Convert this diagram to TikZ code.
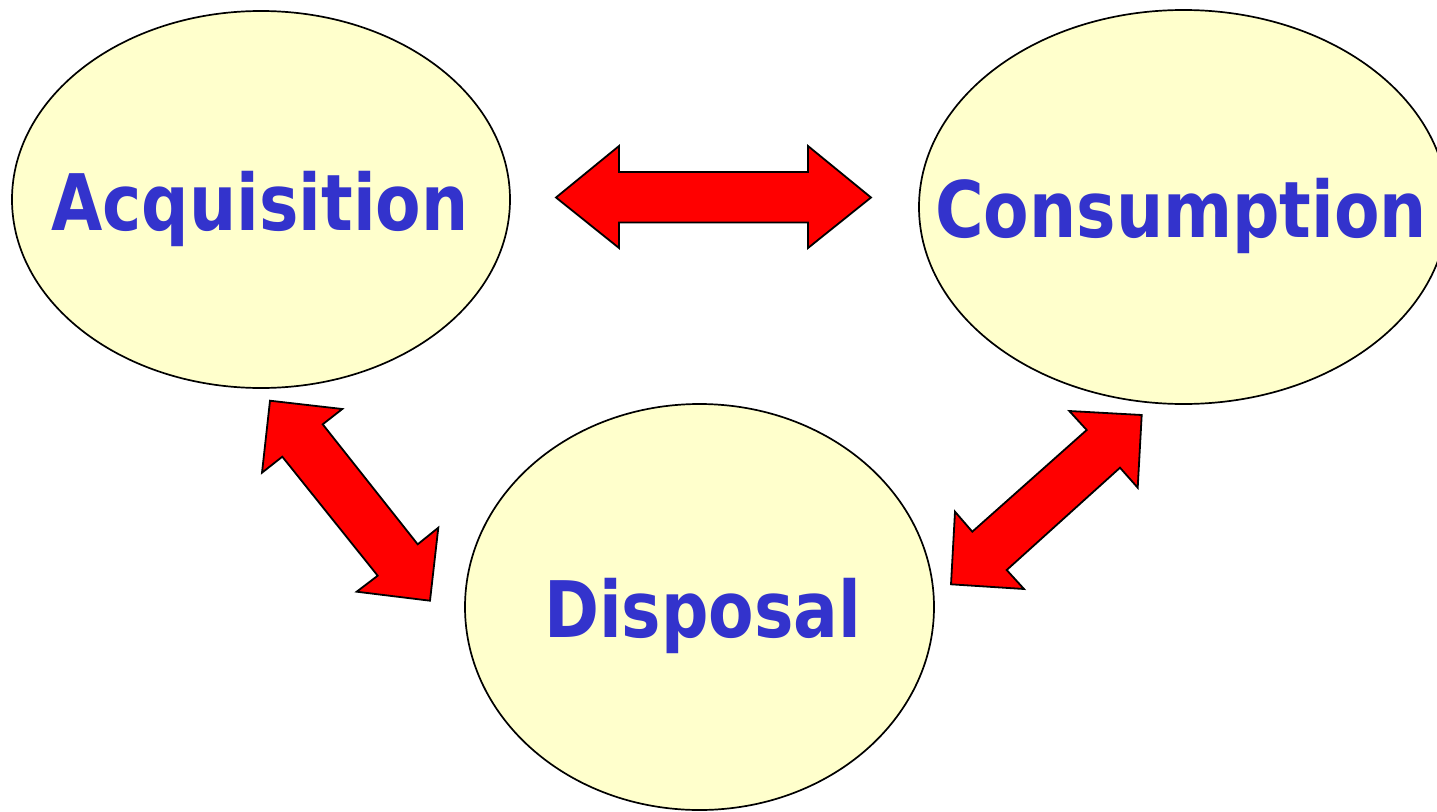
\documentclass[tikz,border=0pt]{standalone}
\usepackage{fontspec}
\usetikzlibrary{shapes.geometric}
\newfontfamily\lblfont[FakeStretch=0.85]{DejaVu Sans Bold}
\definecolor{bubblefill}{HTML}{FFFFCC}
\definecolor{lblblue}{HTML}{3333CC}
\definecolor{arrowred}{HTML}{FF0000}
\begin{document}
\begin{tikzpicture}[x=1pt,y=-1pt,
  bubble/.style={ellipse, draw=black, line width=1.7pt, fill=bubblefill, inner sep=0pt},
  lbl/.style={inner sep=0pt, anchor=base west, text=lblblue, font=\lblfont\fontsize{78}{90}\selectfont},
  blockarrow/.style={draw=black, line width=1.8pt, fill=arrowred, line join=miter}]
\useasboundingbox (0,0) rectangle (1437,811);
\clip (0,0) rectangle (1437,811);

% the three stages
\node[bubble, minimum width=498pt, minimum height=377pt] (acq) at (261,199.5) {};
\node[bubble, minimum width=529pt, minimum height=394pt] (con) at (1183.5,207) {};
\node[bubble, minimum width=469pt, minimum height=406pt] (dis) at (699.5,607) {};

\node[lbl] (acqtext) at (51,230) {Acquisition};
\node[lbl] (context) at (935,237) {Consumption};
\node[lbl] (distext) at (544,637) {Disposal};

% two-way flows between the stages
\draw[blockarrow] (556,197.5) -- (619,146) -- (619,172) -- (808,172) -- (808,146)
  -- (871,197.5) -- (808,248) -- (808,222.5) -- (619,222.5) -- (619,248) -- cycle;

\draw[blockarrow] (270,400.7) -- (342.3,409) -- (322.7,424.3) -- (417.7,544.3)
  -- (438.3,527.7) -- (430,600.7) -- (356.7,591.7) -- (377.7,575.7)
  -- (282.3,456.7) -- (262,472.7) -- cycle;

\draw[blockarrow] (1141.7,415) -- (1069.3,411) -- (1086.7,430) -- (972.3,531.7)
  -- (955,511.7) -- (951,584.3) -- (1024,589) -- (1006.7,570)
  -- (1120,467.7) -- (1137.7,487.7) -- cycle;
\end{tikzpicture}
\end{document}
